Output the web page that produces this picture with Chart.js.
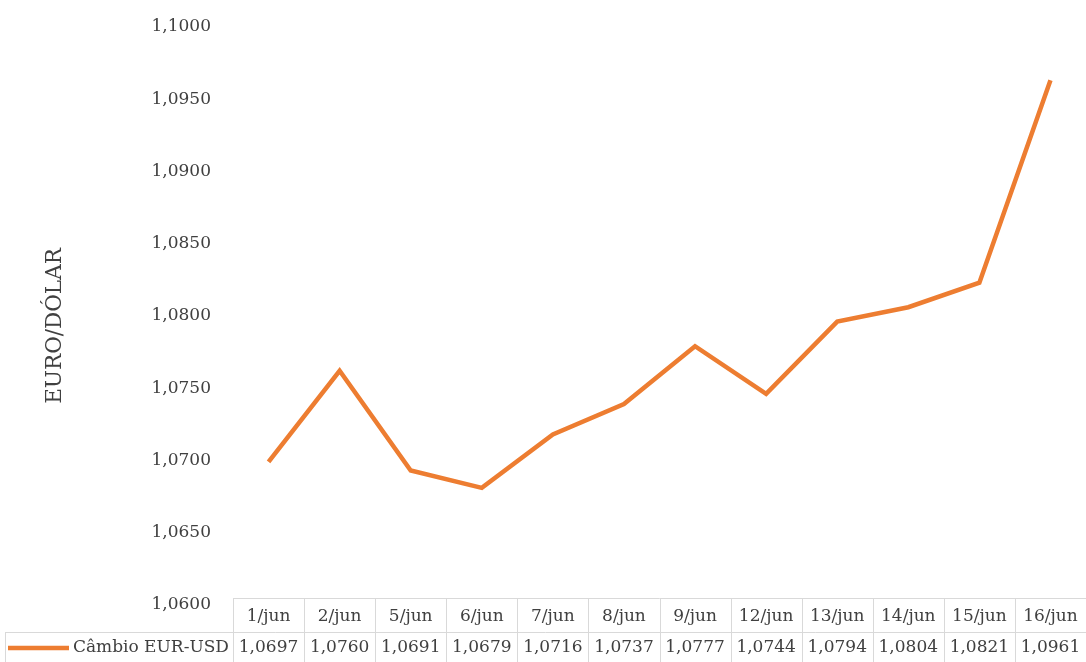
<!DOCTYPE html>
<html>
<head>
<meta charset="utf-8">
<script src="https://cdn.jsdelivr.net/npm/chart.js@4/dist/chart.umd.min.js"></script>
<style>
  html, body { margin: 0; padding: 0; background: #fff; }
  #wrap { width: 1086px; height: 662px; }
</style>
</head>
<body>
<div id="wrap"><canvas id="fxChart" width="1086" height="662"></canvas></div>
<script>
// Data (EUR-USD, June)
const days = ["1/jun", "2/jun", "5/jun", "6/jun", "7/jun", "8/jun", "9/jun", "12/jun", "13/jun", "14/jun", "15/jun", "16/jun"];
const rates = [1.0697, 1.0760, 1.0691, 1.0679, 1.0716, 1.0737, 1.0777, 1.0744, 1.0794, 1.0804, 1.0821, 1.0961];
const seriesName = "Câmbio EUR-USD";
const axisTitle = "EURO/DÓLAR";
const yMin = 1.06, yMax = 1.10, yStep = 0.005;

const FONT = "'DejaVu Serif', serif";
const TEXT = "#404040";
const LINE = "#ED7D31";
const GRID = "#d9d9d9";

function fmt(v) {
  return v.toFixed(4).replace(".", ",");
}

// Draws the Excel style data table under the plot, plus the axis title
const dataTable = {
  id: "dataTable",
  afterDraw(chart) {
    const ctx = chart.ctx;
    const x = chart.scales.x;
    const area = chart.chartArea;
    const colW = (area.right - area.left) / days.length;
    const top = 598, mid = 632, bottom = 662;

    ctx.save();
    ctx.strokeStyle = GRID;
    ctx.lineWidth = 1;
    ctx.beginPath();
    ctx.moveTo(area.left, top + 0.5);
    ctx.lineTo(area.right, top + 0.5);
    ctx.moveTo(5, mid + 0.5);
    ctx.lineTo(area.right, mid + 0.5);
    ctx.moveTo(5.5, mid);
    ctx.lineTo(5.5, bottom);
    for (let i = 0; i <= days.length; i++) {
      const gx = Math.round(area.left + i * colW) + 0.5;
      ctx.moveTo(gx, top);
      ctx.lineTo(gx, bottom);
    }
    ctx.stroke();

    ctx.font = "17px " + FONT;
    ctx.fillStyle = TEXT;
    ctx.textAlign = "center";
    ctx.textBaseline = "middle";
    days.forEach((d, i) => {
      const cx = x.getPixelForValue(i);
      ctx.fillText(d, cx, 617);
      ctx.fillText(fmt(rates[i]), cx, 648);
    });

    // legend key
    ctx.strokeStyle = LINE;
    ctx.lineWidth = 4.5;
    ctx.beginPath();
    ctx.moveTo(8, 648);
    ctx.lineTo(69, 648);
    ctx.stroke();
    ctx.textAlign = "right";
    ctx.fillText(seriesName, area.left - 4, 648);

    // y axis title
    ctx.translate(55, 326);
    ctx.rotate(-Math.PI / 2);
    ctx.textAlign = "center";
    ctx.font = "21.5px " + FONT;
    ctx.fillText(axisTitle, 0, 0);
    ctx.restore();
  }
};

const ctx = document.getElementById("fxChart").getContext("2d");
const fxChart = new Chart(ctx, {
  type: "line",
  data: {
    labels: days,
    datasets: [
      {
        label: seriesName,
        data: rates,
        borderColor: LINE,
        borderWidth: 4.5,
        pointRadius: 0,
        tension: 0,
        fill: false,
      },
    ],
  },
  options: {
    responsive: false,
    animation: false,
    layout: {
      padding: { top: 24, bottom: 60, left: 0, right: 0 },
    },
    plugins: {
      legend: { display: false },
      tooltip: { enabled: false },
    },
    scales: {
      x: {
        display: false,
        offset: true,
      },
      y: {
        min: yMin,
        max: yMax,
        border: { display: false },
        grid: { display: false, drawTicks: false },
        ticks: {
          stepSize: yStep,
          padding: 22,
          labelOffset: 3,
          color: TEXT,
          font: { family: FONT, size: 17 },
          callback: (v) => fmt(v),
        },
        afterFit: (scale) => {
          scale.width = 233;
          scale.paddingTop = 8;
          scale.paddingBottom = 8;
        },
      },
    },
  },
  plugins: [dataTable],
});
</script>
</body>
</html>
